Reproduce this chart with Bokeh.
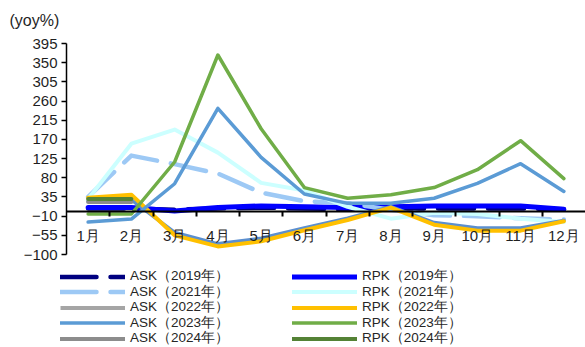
import numpy as np
from bokeh.plotting import figure
from bokeh.models import Range1d, FixedTicker, Legend, LegendItem, Label
from bokeh.embed import file_html
from bokeh.resources import INLINE

# Months on the category axis and y-axis tick values (yoy %)
months = ["1月", "2月", "3月", "4月", "5月", "6月", "7月", "8月", "9月", "10月", "11月", "12月"]
y_ticks = [-100, -55, -10, 35, 80, 125, 170, 215, 260, 305, 350, 395]

# Year-on-year growth by month
ask_2019 = [8, 8, 5, 8, 10, 8, 6, 8, 8, 8, 8, 6]
rpk_2019 = [10, 10, 2, 10, 14, 12, 10, 12, 14, 14, 14, 6]
ask_2021 = [35, 132, 112, 90, 45, 25, 20, 5, -8, -10, -15, -18]
rpk_2021 = [30, 160, 193, 139, 68, 50, 12, -16, -2, -5, -16, -24]
ask_2022 = [25, 28, -48, -75, -62, -38, -15, 12, -25, -38, -38, -20]
rpk_2022 = [33, 40, -55, -81, -69, -43, -19, 10, -30, -44, -44, -22]
ask_2023 = [-24, -17, 66, 243, 128, 42, 20, 20, 32, 67, 113, 48]
rpk_2023 = [-5, -5, 117, 368, 195, 57, 32, 40, 57, 99, 167, 78]
ask_2024 = [23, 23, None, None, None, None, None, None, None, None, None, None]
rpk_2024 = [30, 30, None, None, None, None, None, None, None, None, None, None]

x = np.arange(1, len(months) + 1)


def arr(vals):
    return np.array([np.nan if v is None else v for v in vals], dtype=float)


# Page layout (pixels): the plotting frame fills the page; the axes are
# pinned inside it so that the legend strip below stays unclipped.
W, H = 585, 347
AXIS_X, TOP_Y, BOTTOM_Y = 66, 43, 254
ymin, ymax = y_ticks[0], y_ticks[-1]
ppx = (W - AXIS_X) / len(months)
ppy = (BOTTOM_Y - TOP_Y) / (ymax - ymin)
x_lo = 0.5 - AXIS_X / ppx
y_hi = ymax + TOP_Y / ppy
y_lo = ymin - (H - BOTTOM_Y) / ppy

FONT = "Liberation Sans"
TEXT = "#1f1f1f"

p = figure(width=W, height=H, output_backend="svg", toolbar_location=None,
           x_range=Range1d(x_lo, len(months) + 0.5), y_range=Range1d(y_lo, y_hi),
           min_border_left=0, min_border_right=0, min_border_top=0, min_border_bottom=0)
p.outline_line_color = None
p.grid.visible = False
p.background_fill_color = "white"

# x axis sits on the zero line, with boundary ticks between months
xa = p.xaxis[0]
xa.fixed_location = 0
xa.bounds = (0.5, len(months) + 0.5)
xa.ticker = FixedTicker(ticks=list(x), minor_ticks=[i + 0.5 for i in x[:-1]])
xa.major_label_overrides = {int(i): m for i, m in zip(x, months)}
xa.major_tick_out = 0
xa.major_tick_in = 0
xa.minor_tick_out = 5
xa.minor_tick_in = 0
xa.minor_tick_line_color = "black"
xa.minor_tick_line_width = 2
xa.axis_line_color = "black"
xa.axis_line_width = 2
xa.major_label_standoff = 10
xa.major_label_text_font = FONT
xa.major_label_text_font_size = "15px"
xa.major_label_text_color = TEXT

ya = p.yaxis[0]
ya.fixed_location = 0.5
ya.bounds = (ymin, ymax)
ya.ticker = FixedTicker(ticks=y_ticks)
ya.major_tick_out = 5
ya.major_tick_in = 0
ya.minor_tick_out = 0
ya.minor_tick_in = 0
ya.axis_line_color = "black"
ya.axis_line_width = 1.5
ya.major_tick_line_width = 1.5
ya.major_label_standoff = 4
ya.major_label_text_align = "center"
ya.major_label_text_font = FONT
ya.major_label_text_font_size = "15px"
ya.major_label_text_color = TEXT

p.add_layout(Label(x=0.5 - (AXIS_X - 9) / ppx, y=ymax + (TOP_Y - 20) / ppy, text="(yoy%)",
                   text_font=FONT, text_font_size="16px", text_color=TEXT,
                   text_baseline="middle", text_align="left"))

series = [
    ("ASK（2019年）", ask_2019, "#000080", 4.5, "36 14"),
    ("RPK（2019年）", rpk_2019, "#0000FF", 5, "solid"),
    ("ASK（2021年）", ask_2021, "#9DC9F5", 4.5, "36 14"),
    ("RPK（2021年）", rpk_2021, "#CCFFFF", 4, "solid"),
    ("ASK（2022年）", ask_2022, "#5B8FCF", 3.5, "solid"),
    ("RPK（2022年）", rpk_2022, "#FFC000", 4, "solid"),
    ("ASK（2023年）", ask_2023, "#5B9BD5", 3.5, "solid"),
    ("RPK（2023年）", rpk_2023, "#70AD47", 3.5, "solid"),
    ("ASK（2024年）", ask_2024, "#8C8C8C", 4, "solid"),
    ("RPK（2024年）", rpk_2024, "#548235", 4, "solid"),
]

renderers = {}
for name, vals, color, lw, dash in series:
    renderers[name] = p.line(x, arr(vals), line_color=color, line_width=lw,
                             line_dash=dash, line_join="round", line_cap="round")

# the 2022 ASK series is keyed in grey in the legend
ask22_key = p.line(x[:1], [np.nan], line_color="#A5A5A5", line_width=4)

# Two-column key below the chart: ASK entries on the left, RPK on the right.
# Each entry is its own one-row legend so the row pitch can be set exactly.
KEY_H = 19
ROW0_Y, ROW_PITCH = 276, 15.5
COL_X = {"ASK": 60, "RPK": 292}
for col in ("ASK", "RPK"):
    names = [s[0] for s in series if s[0].startswith(col)]
    for row, n in enumerate(names):
        r = ask22_key if n == "ASK（2022年）" else renderers[n]
        centre = ROW0_Y + row * ROW_PITCH
        lg = Legend(items=[LegendItem(label=n, renderers=[r])],
                    location=(COL_X[col], H - centre - KEY_H / 2),
                    glyph_width=65, glyph_height=KEY_H, label_height=KEY_H, spacing=0,
                    padding=0, margin=0, label_standoff=5,
                    label_text_font=FONT, label_text_font_size="13.5px",
                    label_text_color="#262626", label_text_baseline="middle",
                    border_line_color=None, background_fill_alpha=0)
        p.add_layout(lg)

open("out.html", "w").write(file_html(p, INLINE))
